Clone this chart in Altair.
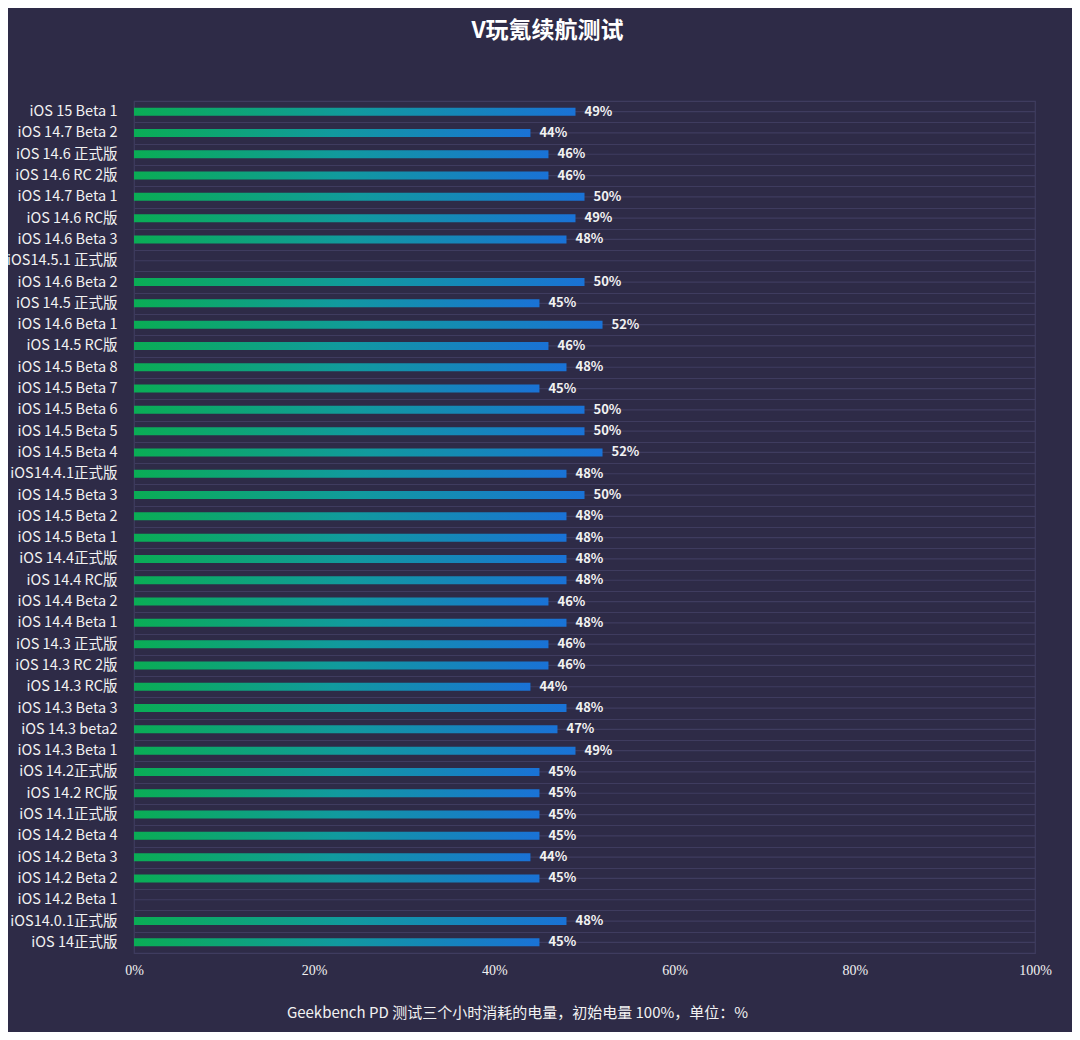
import altair as alt
import pandas as pd

categories = [
    "iOS 15 Beta 1", "iOS 14.7 Beta 2", "iOS 14.6 正式版", "iOS 14.6 RC 2版",
    "iOS 14.7 Beta 1", "iOS 14.6 RC版", "iOS 14.6 Beta 3", "iOS14.5.1 正式版",
    "iOS 14.6 Beta 2", "iOS 14.5 正式版", "iOS 14.6 Beta 1", "iOS 14.5 RC版",
    "iOS 14.5 Beta 8", "iOS 14.5 Beta 7", "iOS 14.5 Beta 6", "iOS 14.5 Beta 5",
    "iOS 14.5 Beta 4", "iOS14.4.1正式版", "iOS 14.5 Beta 3", "iOS 14.5 Beta 2",
    "iOS 14.5 Beta 1", "iOS 14.4正式版", "iOS 14.4 RC版", "iOS 14.4 Beta 2",
    "iOS 14.4 Beta 1", "iOS 14.3 正式版", "iOS 14.3 RC 2版", "iOS 14.3 RC版",
    "iOS 14.3 Beta 3", "iOS 14.3 beta2", "iOS 14.3 Beta 1", "iOS 14.2正式版",
    "iOS 14.2 RC版", "iOS 14.1正式版", "iOS 14.2 Beta 4", "iOS 14.2 Beta 3",
    "iOS 14.2 Beta 2", "iOS 14.2 Beta 1", "iOS14.0.1正式版", "iOS 14正式版",
]
values = [
    49, 44, 46, 46,
    50, 49, 48, None,
    50, 45, 52, 46,
    48, 45, 50, 50,
    52, 48, 50, 48,
    48, 48, 48, 46,
    48, 46, 46, 44,
    48, 47, 49, 45,
    45, 45, 45, 44,
    45, None, 48, 45,
]
x_ticks = [0, 20, 40, 60, 80, 100]

title_text = "V玩氪续航测试"
caption_text = "Geekbench PD 测试三个小时消耗的电量，初始电量 100%，单位：%"

df = pd.DataFrame({"version": categories, "value": values})

BG = "#2e2b47"
GRID = "#3f3c5f"
FONT = "Noto Sans CJK SC"

y_enc = alt.Y(
    "version:N",
    sort=categories,
    scale=alt.Scale(domain=categories, paddingInner=0, paddingOuter=0),
    axis=alt.Axis(
        title=None,
        grid=True,
        gridColor=GRID,
        gridWidth=1.2,
        tickBand="extent",
        domain=False,
        ticks=False,
        labelColor="#f2f2f2",
        labelFont=FONT,
        labelFontSize=14.5,
        labelPadding=17,
        labelLimit=200,
    ),
)

x_enc = alt.X(
    "value:Q",
    scale=alt.Scale(domain=[0, 100], nice=False),
    axis=alt.Axis(
        values=x_ticks,
        labelExpr="datum.value + '%'",
        labelFlush=False,
        grid=False,
        domain=False,
        ticks=False,
        labelColor="#f2f2f2",
        labelFont="Liberation Serif",
        labelFontSize=14,
        labelPadding=10,
        title=caption_text,
        titleColor="#f2f2f2",
        titleFont=FONT,
        titleFontSize=15,
        titleFontWeight="normal",
        titleAlign="center",
        titleBaseline="alphabetic",
        titleX=383,
        titleY=64,
    ),
)

base = alt.Chart(df)

center_rules = base.mark_rule(color=GRID, strokeWidth=1.2).encode(y=y_enc)

bars = base.mark_bar(
    size=8,
    color=alt.Gradient(
        gradient="linear",
        stops=[
            alt.GradientStop(color="#0aad55", offset=0),
            alt.GradientStop(color="#119a9e", offset=0.5),
            alt.GradientStop(color="#1a72d6", offset=1),
        ],
        x1=0, x2=1, y1=0, y2=0,
    ),
).encode(x=x_enc, y=alt.Y("version:N", sort=categories))

labels = base.transform_filter(
    "isValid(datum.value)"
).transform_calculate(
    label="datum.value + '%'"
).mark_text(
    align="left", baseline="middle", dx=9, color="#f2f2f2",
    font=FONT, fontSize=13, fontWeight="bold",
).encode(x="value:Q", y=alt.Y("version:N", sort=categories), text="label:N")

chart = alt.layer(center_rules, bars, labels).properties(
    width=901,
    height=852,
    background=BG,
    padding={"left": 126, "top": 93, "right": 37, "bottom": 79},
    autosize=alt.AutoSizeParams(type="none"),
    title=alt.TitleParams(
        text=title_text,
        color="#ffffff",
        font=FONT,
        fontSize=23,
        fontWeight="bold",
        anchor="middle",
        dx=-37,
        offset=50,
    ),
).configure_view(stroke=GRID, strokeWidth=1.2)

chart.save("out.html", embed_options={"renderer": "svg", "actions": False})
